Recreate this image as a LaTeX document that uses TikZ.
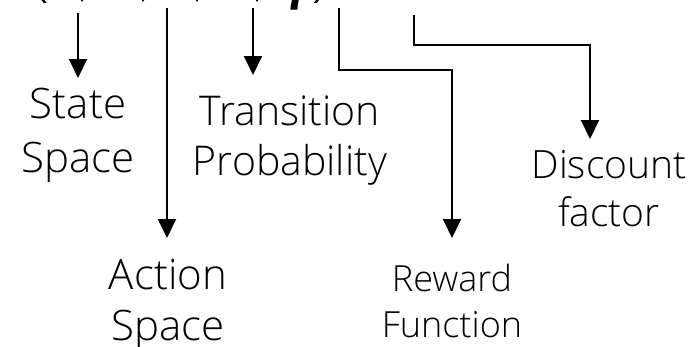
\documentclass[tikz,border=0pt]{standalone}
\usepackage{fontspec}
\setmainfont{Open Sans}[UprightFont=* Light]
\usetikzlibrary{arrows.meta}
\begin{document}
\begin{tikzpicture}[x=1pt,y=-1pt,
  conn/.style={line width=2pt,-{Triangle[width=18pt,length=19pt]}},
  lbl/.style={inner sep=0pt,anchor=north,align=center}]
\useasboundingbox (0,0) rectangle (698,346);
% the MDP tuple, mostly above the frame
\node[anchor=base west,inner sep=0pt,font=\fontsize{57}{68}\selectfont]
  (mdp) at (33,-6) {(S, A, P, R, \raisebox{-2pt}{\textbf{γ}})};
% start points under the tuple entries
\coordinate (sS) at (78,13);
\coordinate (sA) at (167,8);
\coordinate (sP) at (253,8);
\coordinate (sR) at (339,8);
\coordinate (sG) at (414,15);
\coordinate (bR) at (452,70);
\coordinate (bG) at (590,45);
% labels
\node[lbl,font=\fontsize{42}{54}\selectfont] (state) at (78,88)
  {\rule{0pt}{30pt}State\\Space};
\node[lbl,font=\fontsize{41}{50}\selectfont] (trans) at (290,95)
  {\rule{0pt}{30pt}Transition\\Probability};
\node[lbl,font=\fontsize{39}{48}\selectfont] (disc) at (609,148)
  {\rule{0pt}{30pt}Discount\\factor};
\node[lbl,font=\fontsize{42}{51}\selectfont] (action) at (168,259)
  {\rule{0pt}{30pt}Action\\Space};
\node[lbl,font=\fontsize{36}{46}\selectfont] (reward) at (452,261)
  {\rule{0pt}{30pt}Reward\\Function};
% connectors
\draw[conn,shorten >=10pt] (sS) -- (sS |- state.north);
\draw[conn,shorten >=21pt] (sA) -- (sA |- action.north);
\draw[conn,shorten >=20pt] (sP) -- (sP |- trans.north);
\draw[conn,shorten >=23pt] (sR) |- (bR) -- (reward.north);
\draw[conn,shorten >=9pt] (sG) |- (bG) -- (bG |- disc.north);
\end{tikzpicture}
\end{document}
